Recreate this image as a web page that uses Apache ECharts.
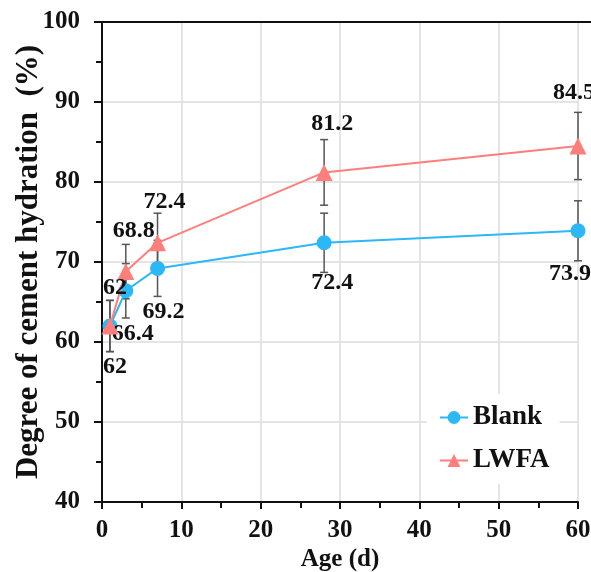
<!DOCTYPE html>
<html>
<head>
<meta charset="utf-8">
<script src="https://cdn.jsdelivr.net/npm/echarts@6/dist/echarts.min.js"></script>
<style>html,body{margin:0;padding:0;background:#fff}#c{width:591px;height:572px}</style>
</head>
<body>
<div id="c"></div>
<script>
// ---- data ----
const ages = [1, 3, 7, 28, 60];
const blankValues = [62, 66.4, 69.2, 72.4, 73.9];
const lwfaValues = [62, 68.8, 72.4, 81.2, 84.5];
const blankErrors = [3.2, 3.4, 3.5, 3.7, 3.75];
const lwfaErrors = [3.2, 3.4, 3.7, 4.1, 4.2];
const seriesNames = ['Blank', 'LWFA'];
const xAxisTitle = 'Age (d)';
const yAxisTitle = 'Degree of cement hydration  (%)';
const xRange = [0, 60, 10];
const yRange = [40, 100, 10];

// ---- styling (label offsets relative to marker) ----
const blankLabelOffsets = [[5, 41], [7, 43], [6, 43], [8, 40], [-8, 43]];
const lwfaLabelOffsets = [[5, -38], [8, -41], [7, -41], [8, -49], [-4, -53]];
const FONT = '"Liberation Serif", "Times New Roman", serif';
const BLUE = '#2cb7f6';
const RED = '#fd7f7c';

function lineData(vals, offs) {
  return ages.map((a, i) => ({ value: [a, vals[i]], label: { offset: offs[i] } }));
}
function errData(vals, errs) {
  return ages.map((a, i) => [a, vals[i] - errs[i], vals[i] + errs[i]]);
}
function renderErr(params, api) {
  const x = api.value(0);
  const p1 = api.coord([x, api.value(2)]);
  const p2 = api.coord([x, api.value(1)]);
  const w = 4;
  const st = { stroke: '#555', lineWidth: 1.5 };
  return {
    type: 'group',
    children: [
      { type: 'line', shape: { x1: p1[0], y1: p1[1], x2: p2[0], y2: p2[1] }, style: st },
      { type: 'line', shape: { x1: p1[0] - w, y1: p1[1], x2: p1[0] + w, y2: p1[1] }, style: st },
      { type: 'line', shape: { x1: p2[0] - w, y1: p2[1], x2: p2[0] + w, y2: p2[1] }, style: st }
    ]
  };
}

const labelStyle = {
  show: true, position: 'inside', color: '#111', fontFamily: FONT,
  fontWeight: 'bold', fontSize: 24,
  formatter: p => String(p.value[1])
};

const chart = echarts.init(document.getElementById('c'), null, { renderer: 'canvas' });
chart.setOption({
  animation: false,
  backgroundColor: '#fff',
  grid: [
    { left: 102, right: 13, top: 22, bottom: 70, containLabel: false, outerBoundsMode: 'none' },
    { left: 102, right: 0, top: 22, height: 1, containLabel: false, outerBoundsMode: 'none' }
  ],
  legend: {
    data: seriesNames,
    orient: 'vertical',
    left: 427, top: 394,
    padding: [10, 10, 10, 12],
    backgroundColor: '#fff',
    itemWidth: 28, itemHeight: 16, itemGap: 16,
    textStyle: { fontFamily: FONT, fontWeight: 'bold', fontSize: 27, color: '#111' }
  },
  xAxis: [{
    type: 'value', gridIndex: 0, min: xRange[0], max: xRange[1], interval: xRange[2],
    name: xAxisTitle, nameLocation: 'middle', nameGap: 45, nameMoveOverlap: false,
    nameTextStyle: { fontFamily: FONT, fontWeight: 'bold', fontSize: 25, color: '#111' },
    axisLine: { lineStyle: { color: '#111', width: 2 } },
    axisTick: { show: true, length: 7, lineStyle: { color: '#111', width: 2 } },
    minorTick: { show: true, splitNumber: 2, length: 6, lineStyle: { color: '#111', width: 2 } },
    axisLabel: { margin: 16, fontFamily: FONT, fontWeight: 'bold', fontSize: 25, color: '#111' },
    splitLine: { show: true, lineStyle: { color: '#dcdcdc', width: 1.5 } }
  }, {
    type: 'value', gridIndex: 1, position: 'top', min: 0, max: 1,
    axisLine: { show: true, onZero: false, lineStyle: { color: '#111', width: 2 } },
    axisTick: { show: false }, axisLabel: { show: false }, splitLine: { show: false }
  }],
  yAxis: [{
    type: 'value', gridIndex: 0, min: yRange[0], max: yRange[1], interval: yRange[2],
    name: yAxisTitle, nameLocation: 'middle', nameGap: 58, nameRotate: 90, nameMoveOverlap: false,
    nameTextStyle: { fontFamily: FONT, fontWeight: 'bold', fontSize: 31, color: '#111' },
    axisLine: { show: true, lineStyle: { color: '#111', width: 2 } },
    axisTick: { show: true, length: 8, lineStyle: { color: '#111', width: 2 } },
    minorTick: { show: true, splitNumber: 2, length: 6, lineStyle: { color: '#111', width: 2 } },
    axisLabel: { margin: 22, fontFamily: FONT, fontWeight: 'bold', fontSize: 25, color: '#111' },
    splitLine: { show: true, lineStyle: { color: '#dcdcdc', width: 1.5 } }
  }, {
    type: 'value', gridIndex: 1, show: false
  }],
  series: [
    { name: 'errBlank', type: 'custom', renderItem: renderErr, data: errData(blankValues, blankErrors),
      encode: { x: 0, y: [1, 2] }, z: 1, silent: true },
    { name: 'errLWFA', type: 'custom', renderItem: renderErr, data: errData(lwfaValues, lwfaErrors),
      encode: { x: 0, y: [1, 2] }, z: 1, silent: true },
    { name: seriesNames[0], type: 'line', data: lineData(blankValues, blankLabelOffsets),
      symbol: 'circle', symbolSize: 15, color: BLUE, lineStyle: { width: 2, color: BLUE },
      itemStyle: { color: BLUE }, label: labelStyle, z: 3 },
    { name: seriesNames[1], type: 'line', data: lineData(lwfaValues, lwfaLabelOffsets),
      symbol: 'triangle', symbolSize: 17, color: RED, lineStyle: { width: 2, color: RED },
      itemStyle: { color: RED }, label: labelStyle, z: 4 }
  ]
});
</script>
</body>
</html>
